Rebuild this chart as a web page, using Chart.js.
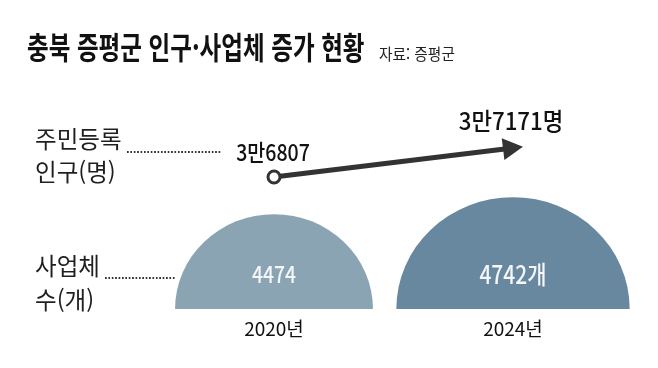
<!DOCTYPE html>
<html lang="ko">
<head>
<meta charset="utf-8">
<script src="https://cdn.jsdelivr.net/npm/chart.js@4/dist/chart.umd.min.js"></script>
<style>
  html, body { margin: 0; padding: 0; background: #fff; }
  #wrap { position: relative; width: 658px; height: 368px; overflow: hidden; font-family: "Noto Sans CJK KR", "Noto Sans", sans-serif; color: #1f1f1f; }
  #c { position: absolute; left: 0; top: 0; }
  .t { position: absolute; white-space: nowrap; line-height: 1; transform-origin: 0 0; }
  .dots { position: absolute; height: 2px; background-image: linear-gradient(to right, #333 50%, transparent 50%); background-size: 3.4px 2px; }
</style>
</head>
<body>
<div id="wrap">
  <canvas id="c" width="658" height="368"></canvas>
  <div class="t" id="title" style="left:27px; top:30px; font-size:31px; font-weight:700; color:#111; transform:scaleX(0.76);">충북 증평군 인구·사업체 증가 현황</div>
  <div class="t" id="src" style="left:379px; top:45px; font-size:16px; font-weight:400; color:#222; transform:scaleX(0.92);">자료: 증평군</div>
  <div class="t" style="left:35px; top:126px; font-size:24px; transform:scaleX(0.98);">주민등록</div>
  <div class="t" style="left:35px; top:159px; font-size:24px; transform:scaleX(0.98);">인구(명)</div>
  <div class="dots" style="left:127px; top:151px; width:95px;"></div>
  <div class="t" style="left:35px; top:253px; font-size:24px; transform:scaleX(0.98);">사업체</div>
  <div class="t" style="left:35px; top:287px; font-size:24px; transform:scaleX(0.98);">수(개)</div>
  <div class="dots" style="left:105px; top:277px; width:70px;"></div>
</div>
<script>
// ---- data ----
const years = ['2020년', '2024년'];
const businesses = [4474, 4742];
const businessLabels = ['4474', '4742개'];
const population = [36807, 37171];
const populationLabels = ['3만6807', '3만7171명'];
const domeColors = ['#8aa4b4', '#67889f'];

const FONT = '"Noto Sans CJK KR", "Noto Sans", sans-serif';

function drawText(ctx, text, x, y, size, weight, color, sx) {
  ctx.save();
  ctx.font = weight + ' ' + size + 'px ' + FONT;
  ctx.fillStyle = color;
  ctx.textAlign = 'center';
  ctx.textBaseline = 'middle';
  ctx.translate(x, y);
  ctx.scale(sx, 1);
  ctx.fillText(text, 0, 0);
  ctx.restore();
}

const domePlugin = {
  id: 'domes',
  beforeDatasetsDraw(chart) {
    const ctx = chart.ctx;
    const ys = chart.scales.y;
    const base = ys.getPixelForValue(ys.min);
    const meta = chart.getDatasetMeta(0);
    meta.data.forEach((bar, i) => {
      const top = ys.getPixelForValue(businesses[i]);
      const h = base - top;
      const rx = h * 1.043;
      ctx.save();
      ctx.beginPath();
      ctx.ellipse(bar.x, base, rx, h, 0, Math.PI, 2 * Math.PI);
      ctx.closePath();
      ctx.fillStyle = domeColors[i];
      ctx.fill();
      ctx.restore();
      drawText(ctx, businessLabels[i], bar.x, base - 35, i === 0 ? 23 : 25, 500, '#f4f6f8', 0.84);
    });
  },
  afterDatasetsDraw(chart) {
    const ctx = chart.ctx;
    const pts = chart.getDatasetMeta(1).data;
    const p0 = pts[0], p1 = pts[1];
    const dx = p1.x - p0.x, dy = p1.y - p0.y;
    const len = Math.hypot(dx, dy);
    const ux = dx / len, uy = dy / len;
    const nx = -uy, ny = ux;
    const tipX = p1.x + ux * 10, tipY = p1.y + uy * 10;
    const bX = p1.x - ux * 10, bY = p1.y - uy * 10;
    ctx.save();
    ctx.beginPath();
    ctx.moveTo(tipX, tipY);
    ctx.lineTo(bX + nx * 11, bY + ny * 11);
    ctx.lineTo(bX - nx * 11, bY - ny * 11);
    ctx.closePath();
    ctx.fillStyle = '#333';
    ctx.fill();
    ctx.restore();
    drawText(ctx, populationLabels[0], p0.x - 1, p0.y - 25, 23, 500, '#111', 0.85);
    drawText(ctx, populationLabels[1], p1.x - 2, p1.y - 27, 24, 500, '#111', 0.93);
  }
};

new Chart(document.getElementById('c'), {
  data: {
    labels: years,
    datasets: [
      {
        type: 'bar',
        data: businesses,
        yAxisID: 'y',
        backgroundColor: 'rgba(0,0,0,0)',
        borderWidth: 0,
        order: 2
      },
      {
        type: 'line',
        data: population,
        yAxisID: 'y2',
        borderColor: '#333',
        borderWidth: 5,
        pointRadius: [6, 0],
        pointBackgroundColor: '#fff',
        pointBorderColor: '#333',
        pointBorderWidth: 3,
        tension: 0,
        order: 1
      }
    ]
  },
  options: {
    responsive: false,
    animation: false,
    events: [],
    layout: { padding: { left: 154.5, right: 25.5, top: 109, bottom: 20.2 } },
    plugins: { legend: { display: false }, tooltip: { enabled: false } },
    scales: {
      x: {
        offset: true,
        grid: { display: false, drawTicks: false },
        border: { display: false },
        ticks: { padding: 8, color: '#111', font: { family: FONT, size: 19, weight: 400 } }
      },
      y: { display: false, min: 2980, max: 6130 },
      y2: { display: false, min: 35151, max: 37660 }
    }
  },
  plugins: [domePlugin]
});
</script>
</body>
</html>
